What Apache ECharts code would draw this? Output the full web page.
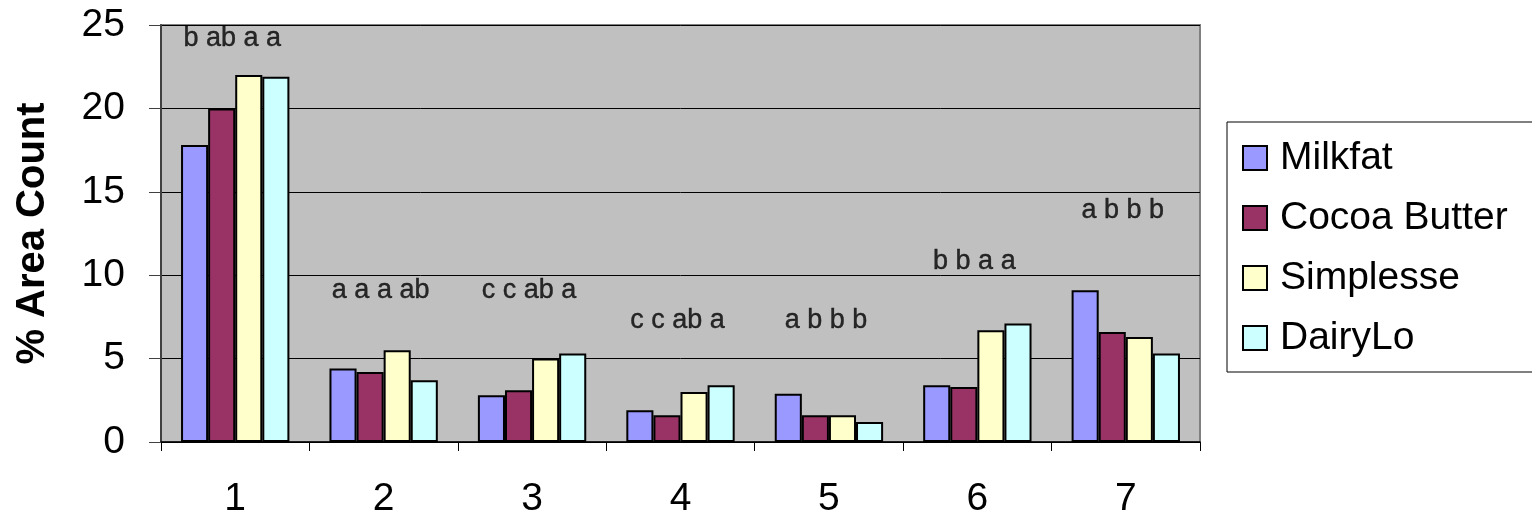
<!DOCTYPE html>
<html>
<head>
<meta charset="utf-8">
<script src="https://cdn.jsdelivr.net/npm/echarts@6/dist/echarts.min.js"></script>
<style>
html,body{margin:0;padding:0;background:#fff;}
#chart{width:1532px;height:516px;}
</style>
</head>
<body>
<div id="chart"></div>
<script>
const categories = ['1','2','3','4','5','6','7'];
const seriesNames = ['Milkfat','Cocoa Butter','Simplesse','DairyLo'];
const milkfat     = [17.8, 4.4, 2.8, 1.9, 2.9, 3.4, 9.1];
const cocoaButter = [20.0, 4.2, 3.1, 1.6, 1.6, 3.3, 6.6];
const simplesse   = [22.0, 5.5, 5.0, 3.0, 1.6, 6.7, 6.3];
const dairyLo     = [21.9, 3.7, 5.3, 3.4, 1.2, 7.1, 5.3];
const letterLabels = ['b ab a a','a a a ab','c c ab a','c c ab a','a b b b','b b a a','a b b b'];
const letterY      = [24.2, 9.1, 9.1, 7.3, 7.3, 10.8, 13.9];
const yTicks = [0, 5, 10, 15, 20, 25];

const colors = ['#9999FF','#993366','#FFFFCC','#CCFFFF'];
const values = [milkfat, cocoaButter, simplesse, dairyLo];
const FONT = "'Liberation Sans', Arial, sans-serif";

const chart = echarts.init(document.getElementById('chart'));
const barSeries = seriesNames.map((n, i) => ({
  name: n,
  type: 'bar',
  data: values[i],
  barGap: '0%',
  barCategoryGap: '27%',
  itemStyle: { color: colors[i], borderColor: '#000', borderWidth: 2 },
  emphasis: { disabled: true },
  animation: false
}));

chart.setOption({
  animation: false,
  textStyle: { fontFamily: FONT },
  grid: {
    left: 161, top: 25, right: 332, bottom: 74,
    containLabel: false,
    outerBoundsMode: 'none',
    show: true, backgroundColor: '#C0C0C0', borderColor: '#808080', borderWidth: 2
  },
  legend: {
    orient: 'vertical',
    left: 1227, top: 122,
    data: seriesNames,
    icon: 'rect',
    backgroundColor: '#fff',
    borderColor: '#000',
    borderWidth: 1,
    padding: [16, 26, 14, 15],
    itemWidth: 24, itemHeight: 24,
    itemGap: 20,
    textStyle: { fontFamily: FONT, fontSize: 39, color: '#000', lineHeight: 40, padding: [0, 0, 0, 8] },
    selectedMode: false
  },
  xAxis: {
    type: 'category',
    data: categories,
    axisLine: { show: true, lineStyle: { color: '#000', width: 1.5 } },
    axisTick: { show: true, length: 9, lineStyle: { color: '#000', width: 1 } },
    axisLabel: { fontFamily: FONT, fontSize: 39, color: '#000', margin: 38 },
    splitLine: { show: false }
  },
  yAxis: {
    type: 'value',
    min: 0, max: 25, interval: 5,
    name: '% Area Count',
    nameLocation: 'middle',
    nameRotate: 90,
    nameGap: 108,
    nameTextStyle: { fontFamily: FONT, fontSize: 40, fontWeight: 'bold', color: '#000' },
    axisLine: { show: true, lineStyle: { color: '#404040', width: 2 } },
    axisTick: { show: true, length: 12, lineStyle: { color: '#404040', width: 1 } },
    axisLabel: {
      fontFamily: FONT, fontSize: 39, color: '#000', margin: 36,
      formatter: v => yTicks.includes(v) ? String(v) : ''
    },
    splitLine: { show: true, lineStyle: { color: '#000', width: 1 } }
  },
  series: barSeries.concat([{
    type: 'scatter',
    name: 'letters',
    data: letterY.map((y, i) => [i, y]),
    symbolSize: 0,
    silent: true,
    z: 10,
    label: {
      show: true,
      position: 'inside',
      fontFamily: FONT,
      fontSize: 27,
      color: '#000',
      textBorderWidth: 0.4,
      textBorderColor: '#000',
      offset: [-3, 0],
      formatter: p => letterLabels[p.dataIndex]
    }
  }])
});
</script>
</body>
</html>
